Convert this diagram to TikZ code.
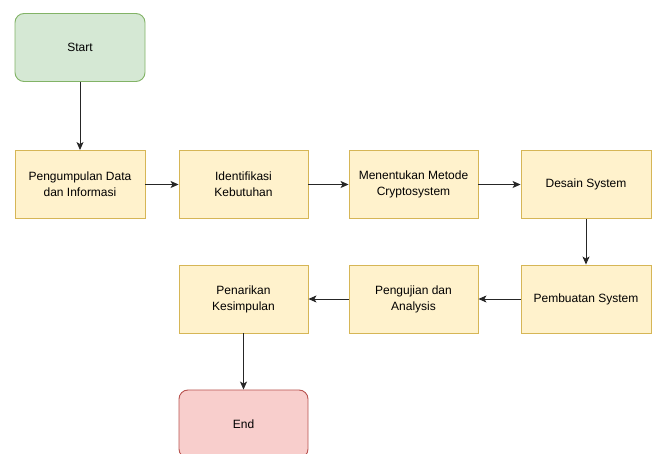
\documentclass[tikz,border=0pt]{standalone}
\usepackage{fontspec}
\setmainfont{Liberation Sans}
\usetikzlibrary{arrows.meta}
\definecolor{gfill}{HTML}{D5E8D4}
\definecolor{gline}{HTML}{82B366}
\definecolor{yfill}{HTML}{FFF2CC}
\definecolor{yline}{HTML}{D6B656}
\definecolor{rfill}{HTML}{F8CECC}
\definecolor{rline}{HTML}{B85450}
\begin{document}
\begin{tikzpicture}[x=1pt,y=-1pt,
  every node/.style={font=\fontsize{12}{16}\selectfont, align=center, inner sep=0pt},
  procbox/.style={draw=yline, fill=yfill, line width=0.9pt, minimum width=129pt, minimum height=68pt},
  startbox/.style={draw=gline, fill=gfill, line width=0.9pt, rounded corners=9pt, minimum width=130pt, minimum height=68pt},
  endbox/.style={draw=rline, fill=rfill, line width=0.9pt, rounded corners=9pt, minimum width=129pt, minimum height=68pt},
  conn/.style={draw=black!85, line width=0.9pt, -{Stealth[length=8pt,width=7pt,inset=2pt]}}]
\useasboundingbox (0,0) rectangle (654,454);
\node[startbox] (start) at (80,47.5) {Start};
\node[procbox, minimum width=130pt] (b1) at (80,184.5) {Pengumpulan Data\\dan Informasi};
\node[procbox] (b2) at (243.5,184.5) {Identifikasi\\Kebutuhan};
\node[procbox] (b3) at (413.5,184.5) {Menentukan Metode\\Cryptosystem};
\node[procbox, minimum width=130pt] (b4) at (586,184.5) {Desain System};
\node[procbox, minimum width=130pt] (b5) at (586,299) {Pembuatan System};
\node[procbox] (b6) at (413.5,299) {Pengujian dan\\Analysis};
\node[procbox] (b7) at (243.5,299) {Penarikan\\Kesimpulan};
\node[endbox] (end) at (243.5,424) {End};
\draw[conn] (start) -- (b1);
\draw[conn] (b1) -- (b2);
\draw[conn] (b2) -- (b3);
\draw[conn] (b3) -- (b4);
\draw[conn] (b4) -- (b5);
\draw[conn] (b5) -- (b6);
\draw[conn] (b6) -- (b7);
\draw[conn] (b7) -- (end);
\end{tikzpicture}
\end{document}
